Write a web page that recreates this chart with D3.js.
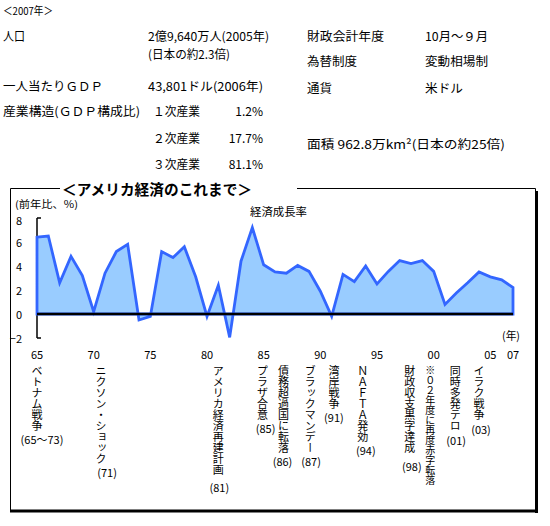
<!DOCTYPE html>
<html><head><meta charset="utf-8">
<script src="https://cdn.jsdelivr.net/npm/d3@7"></script>
<style>
html,body{margin:0;padding:0;background:#fff;}
svg{display:block;}
text{font-family:'Noto Sans CJK JP','Noto Sans',sans-serif;fill:#000;}
text.vert{writing-mode:vertical-rl;text-orientation:upright;}
</style></head>
<body>
<svg id="c" width="550" height="526"></svg>
<script>
// ---------- data ----------
const years = [1965,1966,1967,1968,1969,1970,1971,1972,1973,1974,1975,1976,1977,1978,1979,
  1980,1981,1982,1983,1984,1985,1986,1987,1988,1989,1990,1991,1992,1993,1994,1995,1996,
  1997,1998,1999,2000,2001,2002,2003,2004,2005,2006,2007];
const growth = [6.4,6.5,2.6,4.8,3.2,0.2,3.4,5.2,5.8,-0.5,-0.2,5.2,4.7,5.6,3.1,
  -0.2,2.4,-1.95,4.4,7.2,4.1,3.5,3.4,4.05,3.55,1.9,-0.2,3.3,2.7,4.0,2.5,3.55,
  4.45,4.2,4.45,3.55,0.8,1.75,2.6,3.5,3.1,2.85,2.2];
const xTickYears = [1965,1970,1975,1980,1985,1990,1995,2000,2005,2007];
const xTickLabels = ["65","70","75","80","85","90","95","00","05","07"];
const yTicks = [8,6,4,2,0,-2];
const yTickLabels = ["8","6","4","2","0","−2"];

const eventNames = ["ベトナム戦争","ニクソン・ショック","アメリカ経済再建計画","プラザ合意",
  "債務超過国に転落","ブラックマンデー","湾岸戦争","ＮＡＦＴＡ発効","財政収支黒字達成",
  "※０２年度に再度赤字転落","同時多発テロ","イラク戦争"];
const eventNotes = ["(65～73)","(71)","(81)","(85)","(86)","(87)","(91)","(94)","(98)","","(01)","(03)"];

const leftLabels = ["人口","一人当たりＧＤＰ","産業構造(ＧＤＰ構成比)"];
const leftValues = ["2億9,640万人(2005年)","(日本の約2.3倍)","43,801ドル(2006年)"];
const industryNames = ["１次産業","２次産業","３次産業"];
const industryShares = ["1.2%","17.7%","81.1%"];
const rightLabels = ["財政会計年度","為替制度","通貨"];
const rightValues = ["10月～９月","変動相場制","米ドル"];
const areaText = "面積 962.8万km²(日本の約25倍)";

// ---------- drawing ----------
const svg = d3.select("#c");
const FONT = 12;

function txt(x, y, s, opts={}) {
  const t = svg.append("text").attr("x", x).attr("y", y)
    .attr("dominant-baseline","central")
    .style("font-size", (opts.size||FONT)+"px")
    .text(s);
  if (opts.anchor) t.attr("text-anchor", opts.anchor);
  if (opts.weight) t.style("font-weight", opts.weight);
  if (opts.len) t.attr("textLength", opts.len).attr("lengthAdjust","spacingAndGlyphs");
  return t;
}

// header block
txt(3, 10, "＜2007年＞", {size:11, len:50});
txt(3, 35, leftLabels[0], {len:22});
txt(148, 35, leftValues[0], {len:121});
txt(148, 53, leftValues[1], {len:82});
txt(3, 85, leftLabels[1], {len:100});
txt(148, 85, leftValues[2], {len:115});
txt(3, 110, leftLabels[2], {len:137});
const indY = [110, 137, 163];
industryNames.forEach((n,i)=>{
  txt(153, indY[i], n, {len:47});
  txt(263, indY[i], industryShares[i], {anchor:"end"});
});
const rY = [35, 60, 87];
rightLabels.forEach((n,i)=>{
  txt(307, rY[i], n, {len: [77,50,25][i]});
  txt(425, rY[i], rightValues[i], {len: [63,63,38][i]});
});
txt(307, 143, areaText, {len:198});

// chart frame
const frame = svg.append("g");
frame.append("line").attr("x1",10.5).attr("y1",188.5).attr("x2",60).attr("y2",188.5)
  .attr("stroke","#000").attr("stroke-width",1);
frame.append("line").attr("x1",297).attr("y1",188.5).attr("x2",535.5).attr("y2",188.5)
  .attr("stroke","#000").attr("stroke-width",1);
frame.append("line").attr("x1",10.5).attr("y1",188.5).attr("x2",10.5).attr("y2",510)
  .attr("stroke","#000").attr("stroke-width",1);
frame.append("line").attr("x1",535.5).attr("y1",188.5).attr("x2",535.5).attr("y2",510)
  .attr("stroke","#000").attr("stroke-width",1);
frame.append("rect").attr("x",535).attr("y",191).attr("width",3).attr("height",322).attr("fill","#000");
frame.append("rect").attr("x",10).attr("y",509.5).attr("width",528).attr("height",3).attr("fill","#000");

txt(62, 188, "＜アメリカ経済のこれまで＞", {size:15, weight:"bold", len:190});

// scales
const x = d3.scaleLinear().domain([1965, 2007]).range([37, 513]);
const y = d3.scaleLinear().domain([-2, 8]).range([338, 218]);

// y axis
svg.append("line").attr("x1",37).attr("x2",37).attr("y1",y(8)).attr("y2",y(-2))
  .attr("stroke","#000").attr("stroke-width",1.5);
svg.selectAll(".yt").data(yTicks).join("line")
  .attr("x1",37).attr("x2",41).attr("y1",d=>y(d)).attr("y2",d=>y(d))
  .attr("stroke","#000").attr("stroke-width",1.5);
yTicks.forEach((v,i)=> txt(22, y(v) + (i===0 ? 1.5 : 0), yTickLabels[i], {size:11, anchor:"end"}));

txt(15, 203.5, "(前年比、%)", {size:10, len:63});
txt(250, 211, "経済成長率", {size:11.5, len:57});

// area + line
const pts = years.map((yr,i)=>[yr, growth[i]]);
const area = d3.area().x(d=>x(d[0])).y0(y(0)).y1(d=>y(d[1]));
svg.append("path").datum(pts).attr("d", area)
  .attr("fill","#99ccff").attr("stroke","#3366ff").attr("stroke-width",2.8)
  .attr("stroke-linejoin","miter");

// zero line
svg.append("line").attr("x1",x(1965)).attr("x2",x(2007)).attr("y1",y(0)).attr("y2",y(0))
  .attr("stroke","#000").attr("stroke-width",2.5);

txt(502, 335, "(年)", {size:11, len:18});

// x tick labels
xTickYears.forEach((yr,i)=> txt(x(yr), 354, xTickLabels[i], {size:11, anchor:"middle"}));

// event labels: one vertical-writing glyph per text
const eventCol = [1965, 1970.65, 1981, 1984.9, 1986.75, 1989.1, 1991.2, 1993.75, 1997.9, 1999.7, 2001.9, 2004];
const noteDx = [5, 6, 1, 3, -1, 1, 0, 3, 2, 0, 1, 2];
const noteGap = [13, 13, 17, 13, 13, 13, 13, 13, 18, 0, 14, 14];
const TOP = 365;
eventNames.forEach((name,i)=>{
  const cx = x(eventCol[i]);
  const small = name.startsWith("※");
  const step = small ? 10 : 11;
  const size = small ? 10 : 11;
  const chars = Array.from(name);
  chars.forEach((ch,j)=>{
    svg.append("text").attr("class","vert")
      .attr("x", cx).attr("y", TOP + j*step)
      .style("font-size", size+"px")
      .text(ch);
  });
  if (eventNotes[i]) {
    const last = TOP + (chars.length-1)*step + step/2;
    txt(cx + noteDx[i], last + noteGap[i], eventNotes[i], {size:11, anchor:"middle"});
  }
});
</script>
</body></html>
